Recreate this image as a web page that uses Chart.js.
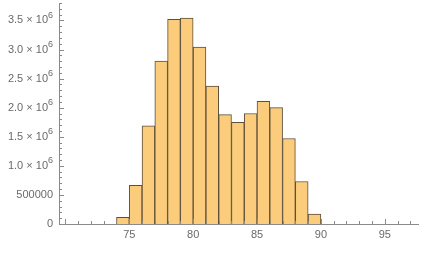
<!DOCTYPE html>
<html>
<head>
<meta charset="utf-8">
<script src="https://cdn.jsdelivr.net/npm/chart.js@4.4.0/dist/chart.umd.min.js"></script>
<style>
  html, body { margin: 0; padding: 0; background: #fff; }
  #wrap { width: 428px; height: 253px; }
</style>
</head>
<body>
<div id="wrap"><canvas id="histChart" width="428" height="253"></canvas></div>
<script>
// histogram bins (left edge, width 1) and counts
const binStarts = [74, 75, 76, 77, 78, 79, 80, 81, 82, 83, 84, 85, 86, 87, 88, 89];
const counts = [115000, 665000, 1690000, 2800000, 3520000, 3540000, 3040000, 2370000,
                1880000, 1750000, 1900000, 2110000, 2000000, 1470000, 730000, 170000];
const xTicks = [75, 80, 85, 90, 95];
const yTicks = [0, 500000, 1000000, 1500000, 2000000, 2500000, 3000000, 3500000];

const axisColor = '#8a8a8a';
const labelColor = '#6a6a6a';
const fontFam = '"Liberation Sans", Arial, sans-serif';

// ticks pointing inward + labels, Mathematica style
const axisDecor = {
  id: 'axisDecor',
  afterDraw(chart) {
    const c = chart.ctx;
    const xs = chart.scales.x, ys = chart.scales.y;
    const x0 = xs.left, y0 = ys.bottom;
    c.save();
    c.strokeStyle = axisColor;
    c.lineWidth = 1;
    c.beginPath();
    for (let v = 70; v <= 97; v++) {
      const px = Math.round(xs.getPixelForValue(v)) + 0.5;
      const len = v % 5 === 0 ? 5 : 3;
      c.moveTo(px, y0); c.lineTo(px, y0 - len);
    }
    for (let v = 0; v <= 3800000; v += 100000) {
      const py = Math.round(ys.getPixelForValue(v)) + 0.5;
      const len = v % 500000 === 0 ? 5 : 3;
      c.moveTo(x0, py); c.lineTo(x0 + len, py);
    }
    c.stroke();

    c.fillStyle = labelColor;
    c.font = '11px ' + fontFam;
    c.textAlign = 'center';
    c.textBaseline = 'middle';
    xTicks.forEach(v => c.fillText(String(v), xs.getPixelForValue(v), y0 + 11));

    yTicks.forEach(v => {
      const py = ys.getPixelForValue(v);
      const right = x0 - 6;
      if (v < 1000000) {
        c.font = '11px ' + fontFam;
        c.textAlign = 'right';
        c.fillText(String(v), right, py);
      } else {
        const main = (v / 1000000).toFixed(1) + ' \u00d7 10';
        c.font = '9px ' + fontFam;
        const wSup = c.measureText('6').width;
        c.textAlign = 'left';
        c.fillText('6', right - wSup, py - 5);
        c.font = '11px ' + fontFam;
        c.textAlign = 'right';
        c.fillText(main, right - wSup, py);
      }
    });
    c.restore();
  }
};

const ctx = document.getElementById('histChart').getContext('2d');
const chart = new Chart(ctx, {
  type: 'bar',
  data: {
    datasets: [{
      data: binStarts.map((b, i) => ({ x: b + 0.5, y: counts[i] })),
      backgroundColor: 'rgb(250, 204, 124)',
      borderColor: '#5e4e3a',
      borderWidth: 1,
      barPercentage: 1,
      categoryPercentage: 1
    }]
  },
  options: {
    responsive: false,
    animation: false,
    layout: { padding: { left: 0, right: 10, top: 3, bottom: 0 } },
    plugins: { legend: { display: false }, tooltip: { enabled: false } },
    scales: {
      x: {
        type: 'linear',
        offset: false,
        min: 69.5,
        max: 97.6,
        grid: { display: false, drawTicks: false },
        border: { color: axisColor, width: 1 },
        ticks: { display: false },
        afterFit: s => { s.height = 29; }
      },
      y: {
        min: 0,
        max: 3800000,
        grid: { display: false, drawTicks: false },
        border: { color: axisColor, width: 1 },
        ticks: { display: false },
        afterFit: s => { s.width = 59; }
      }
    }
  },
  plugins: [axisDecor]
});
</script>
</body>
</html>
